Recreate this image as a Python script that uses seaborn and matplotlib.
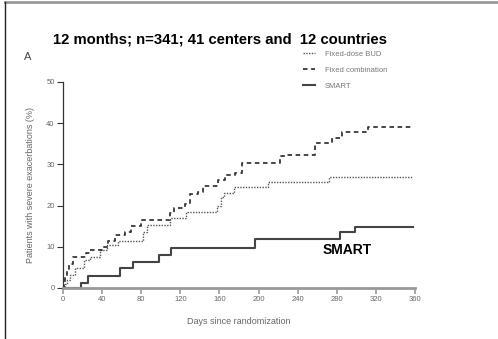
import numpy as np
import pandas as pd
import seaborn as sns
from matplotlib import pyplot as plt
from matplotlib.lines import Line2D

# Kaplan-Meier style step curves
bud_days = [0, 2, 4, 7, 12, 21, 28, 38, 45, 56, 82, 86, 109, 126, 157, 162, 165, 175, 210, 272, 358]
bud_pct = [0, 1.0, 1.9, 3.2, 4.8, 6.8, 7.6, 9.3, 10.5, 11.3, 13.7, 15.4, 17.0, 18.4, 19.8, 22.1, 23.0, 24.6, 25.8, 27.0, 27.0]

combo_days = [0, 1, 2, 4, 6, 10, 24, 28, 41, 46, 53, 63, 70, 80, 109, 114, 125, 130, 138, 143, 159, 166,
              176, 183, 222, 227, 258, 275, 285, 312, 358]
combo_pct = [0, 1.5, 3.0, 4.5, 5.8, 7.6, 8.4, 9.3, 10.0, 11.3, 12.9, 13.7, 15.0, 16.6, 18.2, 19.4, 20.3, 22.7,
             23.2, 24.7, 26.3, 27.5, 28.0, 30.4, 32.0, 32.4, 35.2, 36.5, 37.9, 39.0, 39.0]

smart_days = [0, 18, 26, 58, 72, 98, 110, 196, 283, 299, 358]
smart_pct = [0, 1.1, 3.0, 4.8, 6.2, 8.1, 9.8, 11.8, 13.5, 14.8, 14.8]

series = ["Fixed-dose BUD", "Fixed combination", "SMART"]
styles = {"Fixed-dose BUD": dict(color="#555555", linestyle=(0, (1, 1)), linewidth=1.0),
          "Fixed combination": dict(color="#383838", linestyle=(0, (2.5, 2)), linewidth=1.3),
          "SMART": dict(color="#444444", linestyle="-", linewidth=1.5)}

plt.rcParams["font.family"] = ["Liberation Sans", "DejaVu Sans"]

fig = plt.figure(figsize=(4.98, 3.39), dpi=100)
ax = fig.add_axes([63 / 498, 1 - 288 / 339, 352 / 498, 206 / 339])

for name, d, p in zip(series, [bud_days, combo_days, smart_days], [bud_pct, combo_pct, smart_pct]):
    df = pd.DataFrame({"day": d, "pct": p})
    sns.lineplot(data=df, x="day", y="pct", ax=ax, drawstyle="steps-post", label=name, **styles[name])

ax.set_xlim(0, 360)
ax.set_ylim(0, 50)
ax.set_xticks(np.arange(0, 361, 40))
ax.set_yticks(np.arange(0, 51, 10))
ax.spines["top"].set_visible(False)
ax.spines["right"].set_visible(False)
ax.spines["bottom"].set_color("#999999")
ax.spines["bottom"].set_linewidth(2)
ax.spines["left"].set_color("#333333")
ax.spines["left"].set_linewidth(0.9)
ax.tick_params(axis="x", colors="#999999", labelcolor="#666666", labelsize=5.5, length=4, width=1.2, pad=2)
ax.tick_params(axis="y", colors="#333333", labelcolor="#666666", labelsize=5.5, length=4, width=0.8, pad=2)
ax.set_xlabel("Days since randomization", fontsize=6.5, color="#666666", labelpad=10)
ax.set_ylabel("Patients with severe exacerbations (%)", fontsize=6.5, color="#666666", labelpad=8)

ax.text(265, 9.2, "SMART", fontsize=10, fontweight="bold", va="center", ha="left")

leg = ax.legend(loc="upper left", bbox_to_anchor=(299 / 498, 1 - 47 / 339), bbox_transform=fig.transFigure,
                frameon=False, fontsize=5.5, handlelength=1.6, handletextpad=1.3, labelspacing=1.1, borderpad=0)
for t in leg.get_texts():
    t.set_color("#777777")

fig.text(220 / 498, 1 - 39 / 339, "12 months; n=341; 41 centers and  12 countries",
         fontsize=10.7, fontweight="bold", ha="center", va="center")
fig.text(28 / 498, 1 - 57 / 339, "A", fontsize=8, color="#444444", ha="center", va="center")

# page frame
fig.add_artist(Line2D([5 / 498, 1], [1 - 2 / 339, 1 - 2 / 339], transform=fig.transFigure, color="#999999", lw=2))
fig.add_artist(Line2D([5 / 498, 5 / 498], [0, 1 - 2 / 339], transform=fig.transFigure, color="#222222", lw=1))

fig.savefig("out.png", dpi=100)
